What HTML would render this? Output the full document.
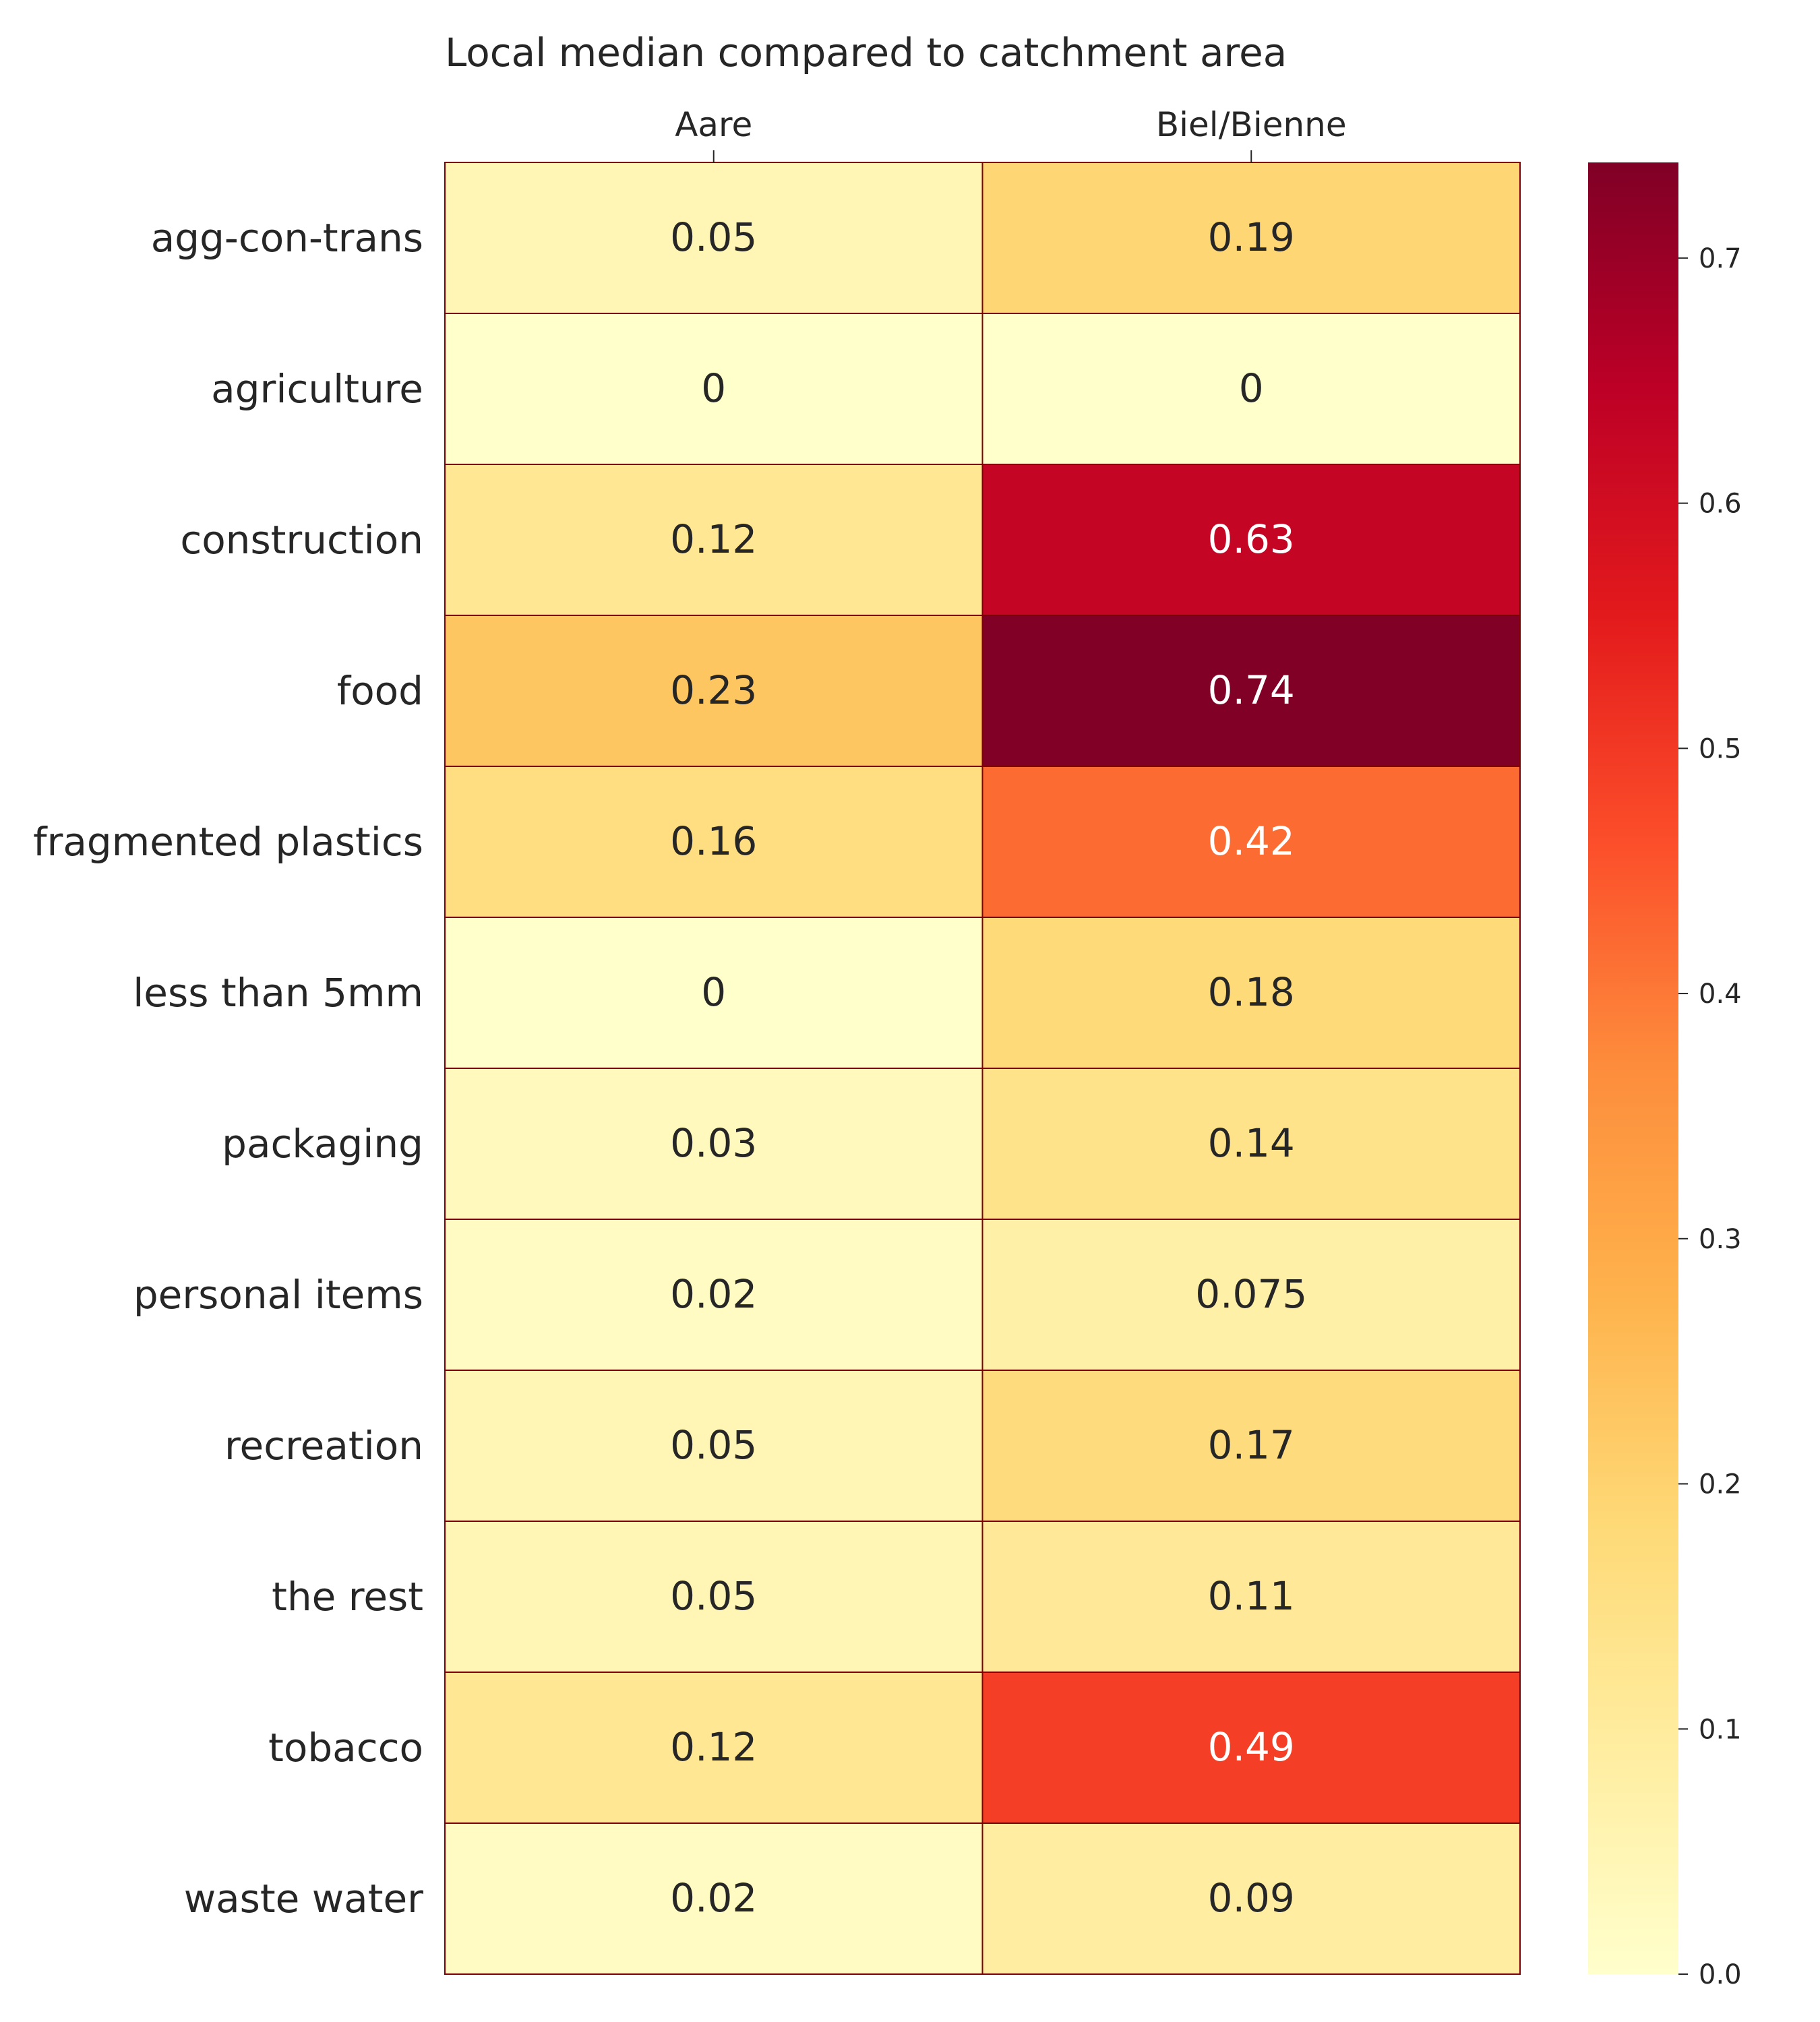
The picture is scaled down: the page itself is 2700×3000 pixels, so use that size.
<!DOCTYPE html>
<html><head><meta charset="utf-8"><style>
html,body{margin:0;padding:0;background:#fff;}
svg{display:block;font-family:"DejaVu Sans","Liberation Sans",sans-serif;}
</style></head><body>
<svg id="chart" width="2700" height="3000" viewBox="0 0 2700 3000" xmlns="http://www.w3.org/2000/svg">
<text x="660" y="98" font-size="58" fill="#262626">Local median compared to catchment area</text>
<g id="cells"></g>
<g id="labels"></g>
<defs><linearGradient id="cbgrad" x1="0" y1="1" x2="0" y2="0"></linearGradient></defs>
<rect x="2356" y="241" width="134" height="2688" fill="url(#cbgrad)"/>
<g id="cbticks"></g>
</svg>
<script>
const categories = ["agg-con-trans","agriculture","construction","food","fragmented plastics","less than 5mm","packaging","personal items","recreation","the rest","tobacco","waste water"];
const columns = ["Aare","Biel/Bienne"];
const aareValues = [0.05,0,0.12,0.23,0.16,0,0.03,0.02,0.05,0.05,0.12,0.02];
const bielValues = [0.19,0,0.63,0.74,0.42,0.18,0.14,0.075,0.17,0.11,0.49,0.09];
const colorbarTicks = ["0.0","0.1","0.2","0.3","0.4","0.5","0.6","0.7"];

const NS="http://www.w3.org/2000/svg";
const L=660,R=2255,T=241,B=2929;
const vmin=0,vmax=0.739;
const cbT=241,cbB=2929;
const stops=["#ffffcc","#ffeda0","#fed976","#feb24c","#fd8d3c","#fc4e2a","#e31a1c","#bd0026","#800026"];
function hex(h){return [1,3,5].map(i=>parseInt(h.substr(i,2),16));}
function cmap(v){let t=Math.max(0,Math.min(1,(v-vmin)/(vmax-vmin)))*(stops.length-1);let i=Math.min(Math.floor(t),stops.length-2),f=t-i;const a=hex(stops[i]),b=hex(stops[i+1]);return a.map((x,k)=>Math.round(x+(b[k]-x)*f));}
function lum(c){const l=c.map(x=>{x/=255;return x<=0.03928?x/12.92:Math.pow((x+0.055)/1.055,2.4)});return 0.2126*l[0]+0.7152*l[1]+0.0722*l[2];}
const cw=(R-L)/columns.length, rh=(B-T)/categories.length;
const xPos=i=>L+i*cw, yPos=j=>T+j*rh;
function mk(tag,attrs,parent){const e=document.createElementNS(NS,tag);for(const k in attrs)e.setAttribute(k,attrs[k]);parent.appendChild(e);return e;}
const cells=document.getElementById('cells'), labels=document.getElementById('labels');
const series=[aareValues,bielValues];
series.forEach((vals,ci)=>{vals.forEach((v,ri)=>{
  const c=cmap(v);
  const r=mk('rect',{x:xPos(ci),y:yPos(ri),width:cw,height:rh,fill:`rgb(${c.join(',')})`,stroke:'#800000','stroke-width':2},cells);
  
  
  const t=mk('text',{x:xPos(ci)+cw/2,y:yPos(ri)+rh/2+19,'text-anchor':'middle','font-size':58,fill:lum(c)>0.408?'#262626':'#ffffff'},cells);
  t.textContent=String(v);
  
  
});});
categories.forEach((c,ri)=>{
  const t=mk('text',{x:628,y:yPos(ri)+rh/2+20,'text-anchor':'end','font-size':58,fill:'#262626'},labels);
  t.textContent=c;
  
  
});
columns.forEach((c,ci)=>{
  const x=xPos(ci)+cw/2;
  const t=mk('text',{x:x,y:202,'text-anchor':'middle','font-size':50,fill:'#262626'},labels);
  t.textContent=c;
  
  
  const tk=mk('line',{x1:x,x2:x,y1:T-18,y2:T,stroke:'#262626','stroke-width':2},labels);
  
  
});
const grad=document.getElementById('cbgrad');
stops.forEach((s,i)=>{const st=mk('stop',{offset:(i/(stops.length-1)),'stop-color':s},grad);});
const cbg=document.getElementById('cbticks');
colorbarTicks.forEach(lbl=>{
  const v=parseFloat(lbl);
  const y=cbB-(v-vmin)/(vmax-vmin)*(cbB-cbT);
  const ln=mk('line',{x1:2490,x2:2504,y1:y,y2:y,stroke:'#262626','stroke-width':2},cbg);
  
  
  const t=mk('text',{x:2520,y:y+14,'font-size':40,fill:'#262626'},cbg);
  t.textContent=lbl;
  
  
});
</script>
</body></html>
